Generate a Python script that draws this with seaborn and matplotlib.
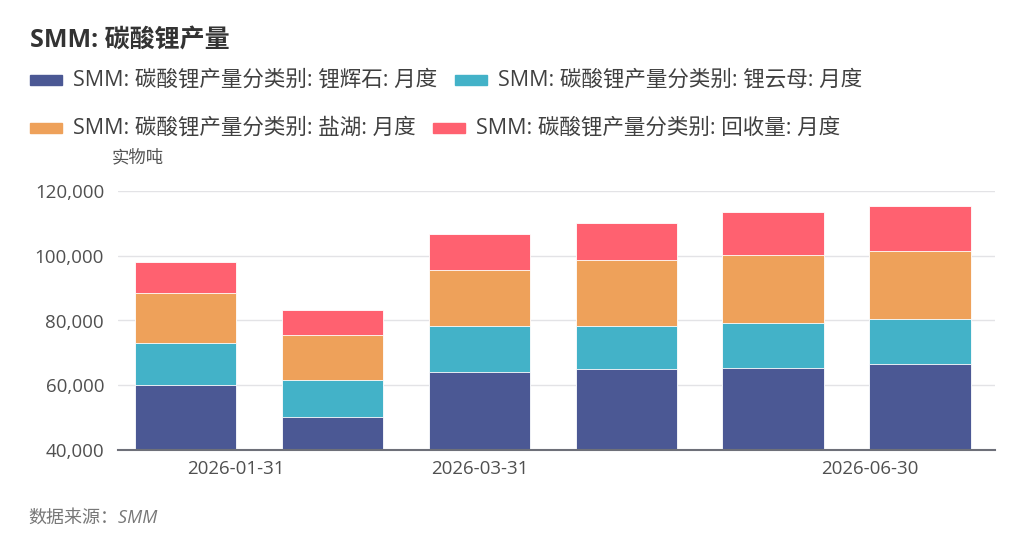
import numpy as np
import pandas as pd
import seaborn as sns
import matplotlib.pyplot as plt
from matplotlib.patches import Rectangle

months = ["2026-01", "2026-02", "2026-03", "2026-04", "2026-05", "2026-06"]
spodumene = [60100, 50100, 64000, 65000, 65400, 66700]
lepidolite = [12900, 11400, 14400, 13400, 13700, 13900]
brine = [15600, 14000, 17300, 20200, 21000, 20800]
recycled = [9400, 7600, 11000, 11500, 13300, 14100]

series_names = [
    "SMM: 碳酸锂产量分类别: 锂辉石: 月度",
    "SMM: 碳酸锂产量分类别: 锂云母: 月度",
    "SMM: 碳酸锂产量分类别: 盐湖: 月度",
    "SMM: 碳酸锂产量分类别: 回收量: 月度",
]
colors = ["#4B5894", "#43B2C8", "#EEA15A", "#FF6170"]

tick_labels = ["2026-01-31", "2026-03-31", "2026-06-30"]
tick_pos = [0.34, 2.0, 4.66]

sns.set_style("white")
plt.rcParams["font.family"] = ["Open Sans", "Noto Sans CJK SC", "DejaVu Sans"]

df = pd.DataFrame({"month": months, "s1": spodumene, "s2": lepidolite,
                   "s3": brine, "s4": recycled})
# cumulative sums for stacking
df["c1"] = df["s1"]
df["c2"] = df["c1"] + df["s2"]
df["c3"] = df["c2"] + df["s3"]
df["c4"] = df["c3"] + df["s4"]

fig = plt.figure(figsize=(10.24, 5.47), dpi=100)
ax = fig.add_axes([118 / 1024, 1 - 450 / 547, (995 - 118) / 1024, (450 - 191) / 547])

# draw the tallest stack first, then overlay the lower ones
for col, c in zip(["c4", "c3", "c2", "c1"], colors[::-1]):
    sns.barplot(data=df, x="month", y=col, color=c, width=0.69,
                saturation=1, ax=ax, edgecolor="white", linewidth=0.6)

ax.set_ylim(40000, 120000)
ax.set_xlim(-0.46, 5.51)
ax.set_yticks([40000, 60000, 80000, 100000, 120000])
ax.set_yticklabels([f"{v:,}" for v in [40000, 60000, 80000, 100000, 120000]])
ax.set_xticks(tick_pos)
ax.set_xticklabels(tick_labels)
ax.set_xlabel("")
ax.set_ylabel("")
ax.yaxis.grid(True, color="#E3E3E6", linewidth=1)
ax.set_axisbelow(True)
for s in ["top", "right", "left"]:
    ax.spines[s].set_visible(False)
ax.spines["bottom"].set_color("#6E7079")
ax.spines["bottom"].set_linewidth(1.5)
ax.tick_params(axis="both", length=0, labelsize=13.5, colors="#505050")
ax.tick_params(axis="x", pad=7)
ax.tick_params(axis="y", pad=10)

# title
fig.text(30 / 1024, 1 - 40 / 547, "SMM: 碳酸锂产量", fontsize=18, fontweight="bold",
         color="#333333", va="center", ha="left")

# legend drawn by hand to keep the uneven spacing
legend_items = [
    (30, 80, 0), (455, 80, 1),
    (30, 128, 2), (433, 128, 3),
]
for x, y, i in legend_items:
    fig.patches.append(Rectangle((x / 1024, 1 - (y + 5) / 547), 32 / 1024, 10 / 547,
                                 transform=fig.transFigure, color=colors[i]))
    fig.text((x + 43) / 1024, 1 - y / 547, series_names[i], fontsize=15.5,
             color="#404040", va="center", ha="left")

fig.text(112 / 1024, 1 - 158 / 547, "实物吨", fontsize=12.5, color="#555555",
         va="center", ha="left")
fig.text(28 / 1024, 1 - 518 / 547, "数据来源：SMM", fontsize=13, color="#777777",
         style="italic", va="center", ha="left")

fig.savefig("out.png", dpi=100, facecolor="white")
